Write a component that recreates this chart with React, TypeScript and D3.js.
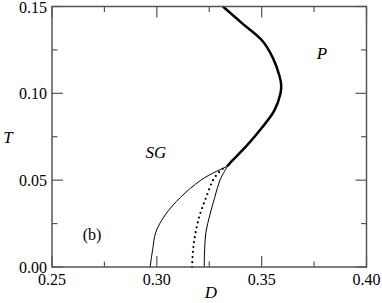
import React from "react";
import * as d3 from "d3";

// phase boundary data, D as a function of T
const thickT = [0.15, 0.14, 0.13, 0.12, 0.11, 0.105, 0.10, 0.09, 0.08, 0.07, 0.06, 0.058];
const thickD = [0.3315, 0.341, 0.3505, 0.3555, 0.3585, 0.3593, 0.359, 0.356, 0.350, 0.343, 0.335, 0.3335];

const leftT = [0, 0.01, 0.02, 0.03, 0.04, 0.05, 0.055, 0.058];
const leftD = [0.2968, 0.298, 0.2995, 0.304, 0.3112, 0.321, 0.3283, 0.3337];

const rightT = [0, 0.01, 0.02, 0.03, 0.04, 0.05, 0.058];
const rightD = [0.3226, 0.3228, 0.3234, 0.3253, 0.3276, 0.3301, 0.3337];

const dotT = [0, 0.01, 0.02, 0.03, 0.04, 0.05, 0.055, 0.058];
const dotD = [0.3168, 0.3173, 0.3185, 0.3205, 0.3235, 0.3268, 0.33, 0.333];

const xTicks = [0.25, 0.3, 0.35, 0.4];
const yTicks = [0, 0.05, 0.1, 0.15];
const xMinor = [0.275, 0.325, 0.375];
const yMinor = [0.025, 0.075, 0.125];

const font = "Liberation Serif, DejaVu Serif, serif";

export default function App() {
  const W = 382, H = 303;
  const x = d3.scaleLinear().domain([0.25, 0.4]).range([52, 366.5]);
  const y = d3.scaleLinear().domain([0, 0.15]).range([267, 6.5]);

  const line = d3.line<[number, number]>()
    .x(d => x(d[0]))
    .y(d => y(d[1]))
    .curve(d3.curveCatmullRom);

  const pts = (ds: number[], ts: number[]) => ds.map((d, i) => [d, ts[i]] as [number, number]);

  const axisColor = "#555";
  const txt = { fontFamily: font, fontSize: 16 };
  const ital = { fontFamily: font, fontSize: 17, fontStyle: "italic" as const };

  return (
    <svg width={W} height={H} style={{ position: "absolute", left: 0, top: 0 }}>
      <rect x={0} y={0} width={W} height={H} fill="white" />
      {/* curves */}
      <path d={line(pts(thickD, thickT)) || ""} fill="none" stroke="#000" strokeWidth={2.5} />
      <path d={line(pts(leftD, leftT)) || ""} fill="none" stroke="#000" strokeWidth={1} />
      <path d={line(pts(rightD, rightT)) || ""} fill="none" stroke="#000" strokeWidth={1} />
      <path d={line(pts(dotD, dotT)) || ""} fill="none" stroke="#000" strokeWidth={2.2}
        strokeDasharray="0 5" strokeLinecap="round" />

      {/* frame */}
      <rect x={x(0.25)} y={y(0.15)} width={x(0.4) - x(0.25)} height={y(0) - y(0.15)}
        fill="none" stroke={axisColor} strokeWidth={1.5} />

      {/* ticks */}
      {xTicks.map(t => (
        <g key={"xt" + t}>
          <line x1={x(t)} x2={x(t)} y1={y(0)} y2={y(0) - 11} stroke={axisColor} strokeWidth={1.2} />
          <line x1={x(t)} x2={x(t)} y1={y(0.15)} y2={y(0.15) + 11} stroke={axisColor} strokeWidth={1.2} />
          <text x={x(t)} y={285} textAnchor="middle" style={txt}>{t.toFixed(2)}</text>
        </g>
      ))}
      {xMinor.map(t => (
        <g key={"xm" + t}>
          <line x1={x(t)} x2={x(t)} y1={y(0)} y2={y(0) - 5.5} stroke={axisColor} strokeWidth={1.2} />
          <line x1={x(t)} x2={x(t)} y1={y(0.15)} y2={y(0.15) + 5.5} stroke={axisColor} strokeWidth={1.2} />
        </g>
      ))}
      {yTicks.map(t => (
        <g key={"yt" + t}>
          <line x1={x(0.25)} x2={x(0.25) + 11} y1={y(t)} y2={y(t)} stroke={axisColor} strokeWidth={1.2} />
          <line x1={x(0.4)} x2={x(0.4) - 11} y1={y(t)} y2={y(t)} stroke={axisColor} strokeWidth={1.2} />
          <text x={47} y={Math.max(y(t) + 5.5, 13)} textAnchor="end" style={txt}>{t.toFixed(2)}</text>
        </g>
      ))}
      {yMinor.map(t => (
        <g key={"ym" + t}>
          <line x1={x(0.25)} x2={x(0.25) + 5.5} y1={y(t)} y2={y(t)} stroke={axisColor} strokeWidth={1.2} />
          <line x1={x(0.4)} x2={x(0.4) - 5.5} y1={y(t)} y2={y(t)} stroke={axisColor} strokeWidth={1.2} />
        </g>
      ))}

      {/* labels */}
      <text x={211} y={298} textAnchor="middle" style={ital}>D</text>
      <text x={8} y={143} textAnchor="middle" style={ital}>T</text>
      <text x={156} y={158} textAnchor="middle" style={ital}>SG</text>
      <text x={322} y={59} textAnchor="middle" style={ital}>P</text>
      <text x={92} y={240} textAnchor="middle" style={txt}>(b)</text>
    </svg>
  );
}
